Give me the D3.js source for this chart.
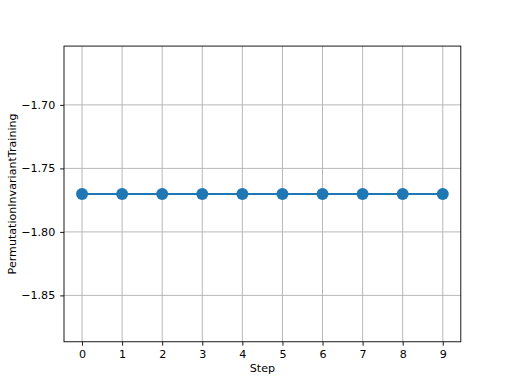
<!DOCTYPE html>
<html>
<head>
<meta charset="utf-8">
<script src="https://cdn.jsdelivr.net/npm/d3@7"></script>
<style>
  body { margin: 0; background: #fff; }
  svg { display: block; font-family: "DejaVu Sans", sans-serif; }
</style>
</head>
<body>
<div id="chart"></div>
<script>
// data
var steps = [0, 1, 2, 3, 4, 5, 6, 7, 8, 9];
var values = [-1.7702, -1.7702, -1.7702, -1.7702, -1.7702, -1.7702, -1.7702, -1.7702, -1.7702, -1.7702];
var yTicks = [-1.85, -1.80, -1.75, -1.70];
var xLabel = 'Step';
var yLabel = 'PermutationInvariantTraining';

var width = 512, height = 384;
var margin = {top: 46.08, right: 51.2, bottom: 42.24, left: 64};
var w = width - margin.left - margin.right,
    h = height - margin.top - margin.bottom;

var svg = d3.select('#chart').append('svg')
    .attr('width', width)
    .attr('height', height);

var g = svg.append('g')
    .attr('transform', 'translate(' + margin.left + ',' + margin.top + ')');

var x = d3.scaleLinear().domain([-0.45, 9.45]).range([0, w]);
var y = d3.scaleLinear().domain([-1.8865, -1.6537]).range([h, 0]);

// grid
g.append('g').selectAll('line').data(steps).enter().append('line')
    .attr('x1', function (d) { return x(d); })
    .attr('x2', function (d) { return x(d); })
    .attr('y1', 0).attr('y2', h)
    .attr('stroke', '#b0b0b0').attr('stroke-width', 0.9);
g.append('g').selectAll('line').data(yTicks).enter().append('line')
    .attr('y1', function (d) { return y(d); })
    .attr('y2', function (d) { return y(d); })
    .attr('x1', 0).attr('x2', w)
    .attr('stroke', '#b0b0b0').attr('stroke-width', 0.9);

// line + markers
var line = d3.line()
    .x(function (d, i) { return x(steps[i]); })
    .y(function (d) { return y(d); });
g.append('path').datum(values)
    .attr('d', line)
    .attr('fill', 'none')
    .attr('stroke', '#1f77b4')
    .attr('stroke-width', 2);
g.append('g').selectAll('circle').data(values).enter().append('circle')
    .attr('cx', function (d, i) { return x(steps[i]); })
    .attr('cy', function (d) { return y(d); })
    .attr('r', 6)
    .attr('fill', '#1f77b4');

// axes
var xAxis = d3.axisBottom(x).tickValues(steps).tickSize(3.9).tickPadding(4.9)
    .tickFormat(d3.format('d'));
var yAxis = d3.axisLeft(y).tickValues(yTicks).tickSize(3.9).tickPadding(4.9)
    .tickFormat(function (d) { return d3.format('.2f')(d).replace('-', '\u2212'); });

var xg = g.append('g').attr('transform', 'translate(0,' + h + ')').call(xAxis);
var yg = g.append('g').call(yAxis);
[xg, yg].forEach(function (a) {
    a.select('.domain').remove();
    a.selectAll('.tick line').attr('stroke', '#000').attr('stroke-width', 0.9);
    a.selectAll('.tick text').attr('fill', '#000').style('font-size', '11.1px')
        .style('font-family', '"DejaVu Sans", sans-serif');
});

// frame
g.append('rect')
    .attr('width', w).attr('height', h)
    .attr('fill', 'none').attr('stroke', '#000').attr('stroke-width', 0.9);

// labels
svg.append('text')
    .attr('x', margin.left + w / 2).attr('y', 372)
    .attr('text-anchor', 'middle')
    .style('font-size', '11.1px')
    .text(xLabel);
svg.append('text')
    .attr('transform', 'translate(16,' + (margin.top + h / 2) + ') rotate(-90)')
    .attr('text-anchor', 'middle')
    .style('font-size', '11.1px')
    .text(yLabel);
</script>
</body>
</html>
